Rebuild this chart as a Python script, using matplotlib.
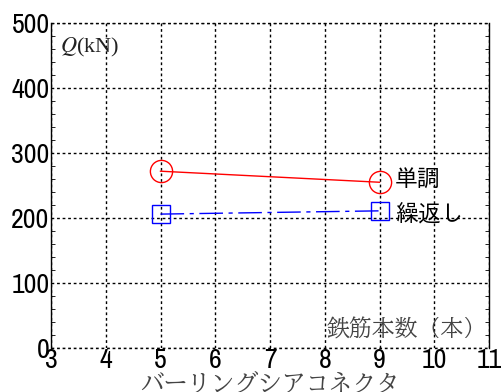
import matplotlib as mpl
import numpy as np
import matplotlib.pyplot as plt
from matplotlib.ticker import MultipleLocator

# number of rebars vs. shear strength
n_rebar = [5, 9]
q_mono = [272, 255]    # monotonic loading
q_cyc = [206, 211]     # cyclic loading
xticks = [3, 4, 5, 6, 7, 8, 9, 10, 11]
yticks = [0, 100, 200, 300, 400, 500]

num_font = ['Archivo Narrow', 'PT Sans Narrow', 'DejaVu Sans']
goth_font = ['IPAGothic', 'Noto Sans CJK JP', 'DejaVu Sans']
minc_font = ['BIZ UDMincho', 'Noto Serif CJK JP', 'DejaVu Serif']

fig = plt.figure(figsize=(5.01, 3.92), dpi=100)
ax = fig.add_axes([51/501, 1 - 348/392, 438/501, 325/392])

ax.plot(n_rebar, q_mono, color='r', lw=1, marker='o', markersize=16,
        markerfacecolor='none', markeredgecolor='r', markeredgewidth=1)
ax.plot(n_rebar, q_cyc, color='b', lw=1, dashes=[17, 4, 3, 4], marker='s',
        markersize=13, markerfacecolor='none', markeredgecolor='b',
        markeredgewidth=1)

ax.set_xlim(3, 11)
ax.set_ylim(0, 500)
ax.set_xticks(xticks)
ax.set_yticks(yticks)
ax.yaxis.set_minor_locator(MultipleLocator(20))
ax.tick_params(axis='y', which='both', direction='in', right=True, length=3)
ax.tick_params(axis='y', which='major', length=0, pad=1)
ax.tick_params(axis='x', which='both', length=0, pad=0)
for lab in ax.get_xticklabels() + ax.get_yticklabels():
    lab.set_family(num_font)
    lab.set_fontsize(20)
    lab.set_weight('medium')

ax.grid(True, color='k', linestyle=(0, (2, 2)), linewidth=1)
ax.spines['top'].set_visible(False)
ax.spines['bottom'].set_visible(False)
for s in ['left', 'right']:
    ax.spines[s].set_linewidth(1)
ax.axhline(0, color='k', linestyle=(0, (2, 2)), linewidth=1, clip_on=False)
ax.axhline(500, color='k', linestyle=(0, (2, 2)), linewidth=1, clip_on=False)

ax.text(0.02, 0.925, r'$Q$(kN)', transform=ax.transAxes, fontsize=16,
        family='Liberation Serif', math_fontfamily='stix', va='center',
        color='#222222')
ax.text(0.995, 0.06, '鉄筋本数（本）', transform=ax.transAxes, fontsize=16.5,
        family=minc_font, color='#444444', ha='right', va='center')

ax.text(9.28, q_mono[1] + 6, '単調', fontsize=16.5, family=goth_font,
        va='center')
ax.text(9.28, q_cyc[1] - 2, '繰返し', fontsize=16.5, family=goth_font,
        va='center')

ax.set_xlabel('バーリングシアコネクタ', family=minc_font, fontsize=17,
              color='#444444', labelpad=0)

fig.savefig('out.png', dpi=100)
